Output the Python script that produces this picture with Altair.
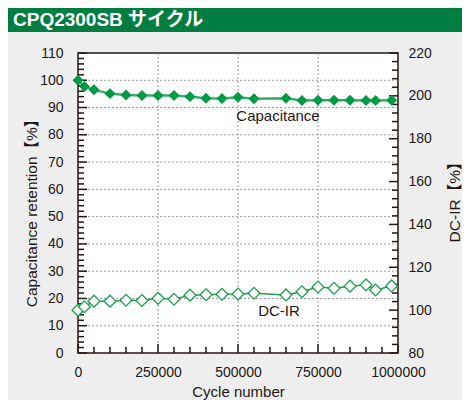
import altair as alt
import pandas as pd

# ---- data ----
cycles = [0, 20000, 50000, 100000, 150000, 200000, 250000, 300000, 350000, 400000,
          450000, 500000, 550000, 650000, 700000, 750000, 800000, 850000, 900000,
          930000, 980000]
capacitance = [100, 97.7, 96.5, 95.1, 94.6, 94.4, 94.4, 94.4, 94.0, 93.4,
               93.3, 93.8, 93.2, 93.4, 92.6, 92.7, 92.7, 92.7, 92.6, 92.6, 92.7]
dcir = [100, 101.6, 104.2, 104.2, 104.6, 104.5, 105.5, 105.1, 107.0, 107.2,
        107.4, 107.5, 107.9, 107.1, 108.6, 110.8, 110.2, 111.2, 111.8, 109.4, 111.3]

x_labels = [0, 250000, 500000, 750000, 1000000]
x_grid = [250000, 500000, 750000]
left_labels = list(range(0, 111, 10))
left_grid = list(range(10, 101, 10))
right_labels = list(range(80, 221, 20))

left_minor = [v for v in range(0, 111, 2) if v % 10]
right_minor = [v for v in range(80, 221, 4) if v % 20]
x_minor = [v for v in range(0, 1000001, 50000) if v % 250000]

title_text = ["CPQ2300SB サイクル"]
cap_label = ["Capacitance"]
cap_label_pos = [625000, 86.8]
dcir_label = ["DC-IR"]
dcir_label_pos = [628000, 99.6]

# ---- styling ----
FONT = "Liberation Sans, Noto Sans CJK JP, sans-serif"
INK = "#231815"
W, H = 320, 300

df = pd.DataFrame({"cycle": cycles, "cap": capacitance, "dcir": dcir})

xs = alt.Scale(domain=[0, 1000000], nice=False, zero=False)
ls = alt.Scale(domain=[0, 110], nice=False, zero=False)
rs = alt.Scale(domain=[80, 220], nice=False, zero=False)

x_axis = alt.Axis(values=x_labels, format="d", grid=False, ticks=False, domain=False,
                  labelFlush=False, labelPadding=12, labelFontSize=14,
                  title="Cycle number", titleFontSize=15, titleFontWeight="normal",
                  titleBaseline="alphabetic", titleY=43)

left_axis = alt.Axis(values=left_labels, orient="left", grid=False, ticks=False,
                     domain=False, labelFlush=False, labelPadding=15, labelFontSize=14,
                     title="Capacitance retention【%】", titleFontSize=15.5,
                     titleFontWeight="normal", titleAngle=270, titleAlign="center",
                     titleBaseline="middle", titleX=-47, titleY=156)

right_axis = alt.Axis(values=right_labels, orient="right", grid=False, ticks=False,
                      domain=False, labelFlush=False, labelPadding=10, labelFontSize=14,
                      title="DC-IR【%】", titleFontSize=15.5, titleFontWeight="normal",
                      titleAngle=270, titleAlign="center", titleBaseline="middle",
                      titleX=56, titleY=145)


def X(field):
    return alt.X(field, scale=xs, axis=x_axis)


grid_style = dict(color="#808080", strokeWidth=0.8, strokeDash=[2, 2])
tick_style = dict(color=INK, strokeWidth=1.5)

base = alt.Chart(df)

tdf = pd.DataFrame({"t": title_text})
band = alt.Chart(tdf).mark_rect(color="#007d40").encode(
    x=alt.value(-70), x2=alt.value(384), y=alt.value(-45), y2=alt.value(-21))
title = alt.Chart(tdf).mark_text(
    font=FONT, fontSize=19, fontWeight="bold", color="white", align="left",
    baseline="alphabetic").encode(x=alt.value(-65), y=alt.value(-27), text="t:N")

hgrid = alt.Chart(pd.DataFrame({"v": left_grid})).mark_rule(**grid_style).encode(
    y=alt.Y("v:Q", scale=ls, axis=None))
vgrid = alt.Chart(pd.DataFrame({"v": x_grid})).mark_rule(**grid_style).encode(
    x=X("v:Q"))

lt_minor = alt.Chart(pd.DataFrame({"v": left_minor})).mark_rule(**tick_style).encode(
    y=alt.Y("v:Q", scale=ls, axis=None), x=alt.value(0), x2=alt.value(6))
lt_major = alt.Chart(pd.DataFrame({"v": left_labels})).mark_rule(**tick_style).encode(
    y=alt.Y("v:Q", scale=ls, axis=None), x=alt.value(0), x2=alt.value(9))
bt_minor = alt.Chart(pd.DataFrame({"v": x_minor})).mark_rule(**tick_style).encode(
    x=X("v:Q"), y=alt.value(H), y2=alt.value(H - 6))
bt_major = alt.Chart(pd.DataFrame({"v": x_labels})).mark_rule(**tick_style).encode(
    x=X("v:Q"), y=alt.value(H), y2=alt.value(H - 9))
rt_minor = alt.Chart(pd.DataFrame({"v": right_minor})).mark_rule(**tick_style).encode(
    y=alt.Y("v:Q", scale=rs, axis=None), x=alt.value(W), x2=alt.value(W - 6))
rt_major = alt.Chart(pd.DataFrame({"v": right_labels})).mark_rule(**tick_style).encode(
    y=alt.Y("v:Q", scale=rs, axis=None), x=alt.value(W), x2=alt.value(W - 9))

cap_line = base.mark_line(color="#35ad62", strokeWidth=2.4).encode(
    x=X("cycle:Q"), y=alt.Y("cap:Q", scale=ls, axis=left_axis))
cap_pts = base.mark_point(shape="diamond", size=120, filled=True, color="#009944",
                          opacity=1).encode(
    x=X("cycle:Q"), y=alt.Y("cap:Q", scale=ls, axis=None))

dcir_line = base.mark_line(color="#1f9e4e", strokeWidth=1.5).encode(
    x=X("cycle:Q"), y=alt.Y("dcir:Q", scale=rs, axis=right_axis))
dcir_pts = base.mark_point(shape="diamond", size=140, filled=True, fill="white",
                           stroke="#1a9f4f", strokeWidth=1.3, opacity=1).encode(
    x=X("cycle:Q"), y=alt.Y("dcir:Q", scale=rs, axis=None))

cap_text = alt.Chart(pd.DataFrame({"t": cap_label, "x": [cap_label_pos[0]],
                                   "y": [cap_label_pos[1]]})).mark_text(
    font=FONT, fontSize=15, color=INK, align="center", baseline="middle").encode(
    x=X("x:Q"), y=alt.Y("y:Q", scale=ls, axis=None), text="t:N")
dcir_text = alt.Chart(pd.DataFrame({"t": dcir_label, "x": [dcir_label_pos[0]],
                                    "y": [dcir_label_pos[1]]})).mark_text(
    font=FONT, fontSize=15, color=INK, align="center", baseline="middle").encode(
    x=X("x:Q"), y=alt.Y("y:Q", scale=rs, axis=None), text="t:N")

chart = alt.layer(
    band, title, hgrid, vgrid, lt_minor, lt_major, bt_minor, bt_major,
    rt_minor, rt_major, cap_line, cap_pts, dcir_line, dcir_pts, cap_text, dcir_text,
).resolve_scale(y="independent").properties(
    width=W, height=H,
    autosize=alt.AutoSizeParams(type="none"),
    padding={"left": 70, "top": 45, "right": 64, "bottom": 47},
    background="#eeeeee",
).configure_view(
    stroke=INK, strokeWidth=1.5, fill="white"
).configure_axis(
    labelFont=FONT, titleFont=FONT, labelColor=INK, titleColor=INK
)

chart.save("out.html", embed_options={"renderer": "svg", "actions": False})
